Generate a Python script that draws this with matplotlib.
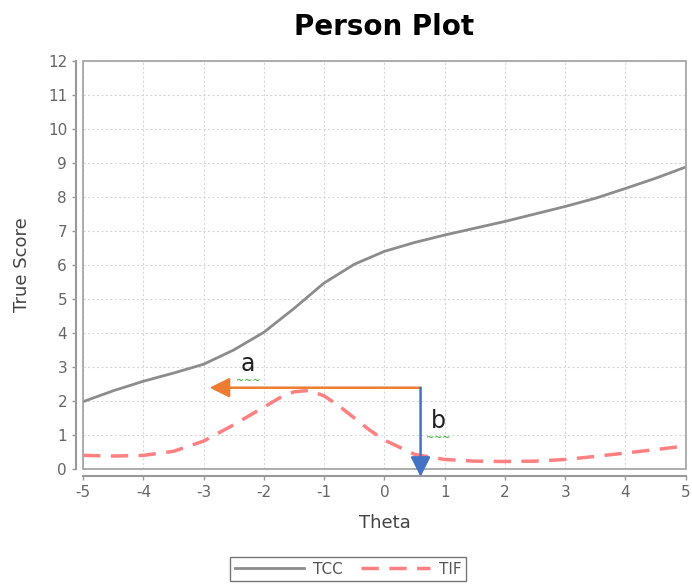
import matplotlib.pyplot as plt
from matplotlib.patches import Rectangle

plt.rcParams['axes.unicode_minus'] = False

# values
theta = [-5, -4.5, -4, -3.5, -3, -2.5, -2, -1.5, -1, -0.5, 0, 0.5, 1, 1.5, 2, 2.5, 3, 3.5, 4, 4.5, 5]
tcc = [1.98, 2.3, 2.58, 2.82, 3.08, 3.5, 4.02, 4.72, 5.47, 6.02, 6.4, 6.66, 6.88, 7.08, 7.28, 7.5, 7.72, 7.96, 8.25, 8.55, 8.88]

tif_theta = [-5, -4.5, -4, -3.5, -3, -2.5, -2, -1.75, -1.5, -1.25, -1, -0.75, -0.5, -0.25, 0, 0.5, 1, 1.5, 2, 2.5, 3, 3.5, 4, 4.5, 5]
tif = [0.4, 0.38, 0.4, 0.52, 0.82, 1.3, 1.82, 2.08, 2.27, 2.31, 2.15, 1.85, 1.5, 1.15, 0.85, 0.43, 0.28, 0.23, 0.22, 0.23, 0.28, 0.37, 0.47, 0.57, 0.68]

# annotation arrows: start point, left tip, bottom tip
arrow_start = (0.6, 2.39)
arrow_a_end = (-2.9, 2.39)
arrow_b_end = (0.6, -0.23)
label_a = (-2.26, 3.1)
label_b = (0.89, 1.4)

fig = plt.figure(figsize=(6.92, 5.88), dpi=100)
ax = fig.add_axes([0.12, 0.2024, 0.871, 0.694])

ax.plot(theta, tcc, color='#8c8c8c', lw=2, label='TCC')
ax.plot(tif_theta, tif, color='#ff8080', lw=2.5, linestyle=(0, (5, 3)), label='TIF')

ax.set_xlim(-5, 5)
ax.set_ylim(0, 12)
ax.set_xticks(range(-5, 6))
ax.set_yticks(range(0, 13))
ax.grid(True, color='#d8d8d8', lw=0.8, linestyle=(0, (2, 2)))

# JFreeChart-like frame with offset axes
for s in ['top', 'right']:
    ax.spines[s].set_visible(False)
for s in ['left', 'bottom']:
    ax.spines[s].set_position(('outward', 5))
    ax.spines[s].set_color('#999999')
    ax.spines[s].set_linewidth(1.5)
ax.add_patch(Rectangle((0, 0), 1, 1, transform=ax.transAxes, fill=False,
                       edgecolor='#a0a0a0', lw=1.2, clip_on=False, zorder=5))
ax.tick_params(colors='#999999', labelcolor='#666666', labelsize=11, length=3, width=1)

ax.set_xlabel('Theta', fontsize=13, color='#444444', labelpad=10)
ax.set_ylabel('True Score', fontsize=13, color='#444444', labelpad=12)
ax.set_title('Person Plot', fontsize=20, fontweight='bold', pad=19)

ax.annotate('', xy=arrow_a_end, xytext=arrow_start,
            arrowprops=dict(arrowstyle='-|>,head_length=0.6,head_width=0.3',
                            color='#ed7d31', lw=1.8, mutation_scale=20,
                            shrinkA=0, shrinkB=0), zorder=6)
ax.annotate('', xy=arrow_b_end, xytext=arrow_start, annotation_clip=False,
            arrowprops=dict(arrowstyle='-|>,head_length=0.6,head_width=0.3',
                            color='#4472c4', lw=1.8, mutation_scale=20,
                            shrinkA=0, shrinkB=0, clip_on=False), zorder=6)

for txt, pos in [('a', label_a), ('b', label_b)]:
    ax.text(pos[0], pos[1], txt, fontsize=17, color='#222222', ha='center', va='center', zorder=7)
    ax.text(pos[0], pos[1] - 0.5, '~~~', fontsize=7, color='#22aa22', ha='center', va='center', zorder=7)

leg = fig.legend(loc='center', bbox_to_anchor=(0.503, 0.032), ncol=2, fontsize=11,
                 handlelength=4.5, columnspacing=1.2, frameon=True, fancybox=False,
                 borderpad=0.3, handletextpad=0.6)
leg.get_frame().set_edgecolor('#555555')
leg.get_frame().set_linewidth(1.0)
for t in leg.get_texts():
    t.set_color('#555555')

fig.savefig('out.png', dpi=100)
